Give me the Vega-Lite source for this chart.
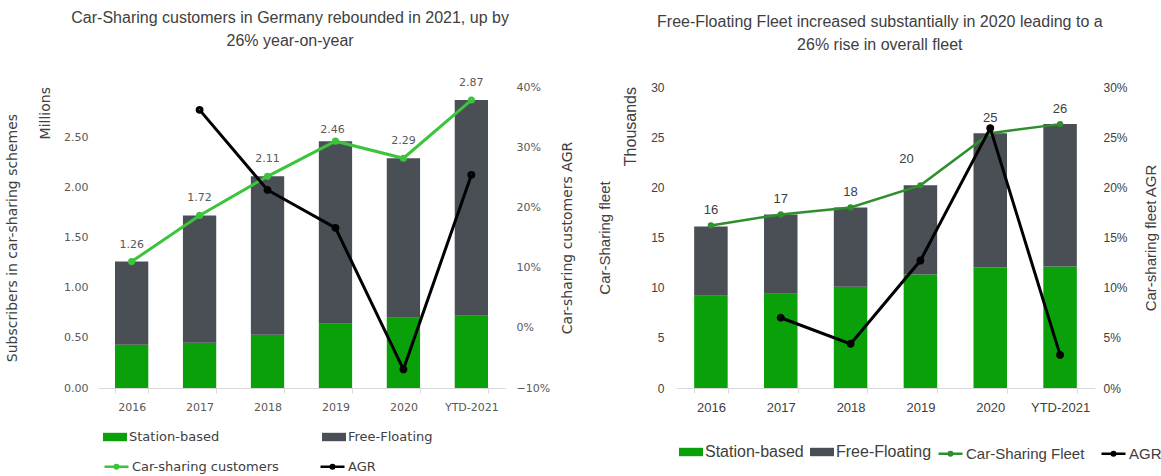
{
  "$schema": "https://vega.github.io/schema/vega-lite/v6.json",
  "padding": {"left": 5, "top": 10, "right": 0, "bottom": 0},
  "background": "white",
  "config": {
    "font": "Liberation Sans",
    "view": {"stroke": null},
    "title": {"fontSize": 16, "fontWeight": "normal", "color": "#404040", "anchor": "middle", "frame": "bounds", "lineHeight": 23}
  },
  "datasets": {
    "left_bars": [
      {"year": "2016", "segment": "Station-based", "value": 0.43},
      {"year": "2016", "segment": "Free-Floating", "value": 0.83},
      {"year": "2017", "segment": "Station-based", "value": 0.45},
      {"year": "2017", "segment": "Free-Floating", "value": 1.27},
      {"year": "2018", "segment": "Station-based", "value": 0.53},
      {"year": "2018", "segment": "Free-Floating", "value": 1.58},
      {"year": "2019", "segment": "Station-based", "value": 0.64},
      {"year": "2019", "segment": "Free-Floating", "value": 1.82},
      {"year": "2020", "segment": "Station-based", "value": 0.70},
      {"year": "2020", "segment": "Free-Floating", "value": 1.59},
      {"year": "YTD-2021", "segment": "Station-based", "value": 0.72},
      {"year": "YTD-2021", "segment": "Free-Floating", "value": 2.15}
    ],
    "left_lines": [
      {"year": "2016", "customers": 1.26, "agr": null},
      {"year": "2017", "customers": 1.72, "agr": 0.362},
      {"year": "2018", "customers": 2.11, "agr": 0.229},
      {"year": "2019", "customers": 2.46, "agr": 0.166},
      {"year": "2020", "customers": 2.29, "agr": -0.069},
      {"year": "YTD-2021", "customers": 2.87, "agr": 0.254}
    ],
    "right_bars": [
      {"year": "2016", "segment": "Station-based", "value": 9.2},
      {"year": "2016", "segment": "Free-Floating", "value": 6.9},
      {"year": "2017", "segment": "Station-based", "value": 9.4},
      {"year": "2017", "segment": "Free-Floating", "value": 7.9},
      {"year": "2018", "segment": "Station-based", "value": 10.1},
      {"year": "2018", "segment": "Free-Floating", "value": 7.9},
      {"year": "2019", "segment": "Station-based", "value": 11.3},
      {"year": "2019", "segment": "Free-Floating", "value": 8.9},
      {"year": "2020", "segment": "Station-based", "value": 12.0},
      {"year": "2020", "segment": "Free-Floating", "value": 13.4},
      {"year": "YTD-2021", "segment": "Station-based", "value": 12.1},
      {"year": "YTD-2021", "segment": "Free-Floating", "value": 14.2}
    ],
    "right_lines": [
      {"year": "2016", "fleet": 16.2, "agr": null},
      {"year": "2017", "fleet": 17.3, "agr": 0.070},
      {"year": "2018", "fleet": 18.0, "agr": 0.044},
      {"year": "2019", "fleet": 20.2, "agr": 0.127},
      {"year": "2020", "fleet": 25.4, "agr": 0.259},
      {"year": "YTD-2021", "fleet": 26.3, "agr": 0.033}
    ]
  },
  "resolve": {"scale": {"color": "independent", "stroke": "independent"}},
  "hconcat": [
    {
      "width": 407,
      "height": 301,
      "title": {"text": ["Car-Sharing customers in Germany rebounded in 2021, up by", "26% year-on-year"], "offset": 28},
      "layer": [
        {
          "layer": [
            {
              "data": {"name": "left_bars"},
              "mark": {"type": "bar"},
              "encoding": {
                "x": {"field": "year", "type": "nominal", "title": null,
                  "scale": {"domain": ["2016", "2017", "2018", "2019", "2020", "YTD-2021"], "paddingInner": 0.51, "paddingOuter": 0.25},
                  "axis": {"labelAngle": 0, "labelFont": "DejaVu Sans", "labelFontSize": 11, "labelColor": "#595959", "domainColor": "#d9d9d9", "tickColor": "#d9d9d9", "tickBand": "extent", "tickSize": 5, "labelPadding": 8, "grid": false}},
                "y": {"field": "value", "type": "quantitative", "stack": "zero", "title": "Subscribers in car-sharing schemes",
                  "scale": {"domain": [0, 3]},
                  "axis": {"orient": "left", "values": [0, 0.5, 1, 1.5, 2, 2.5], "format": ".2f", "titlePadding": 44, "titleFont": "DejaVu Sans", "titleFontSize": 14, "titleFontWeight": "normal", "titleColor": "#404040", "labelFont": "DejaVu Sans", "labelColor": "#595959", "labelFontSize": 11, "labelPadding": 10, "domain": false, "ticks": false, "grid": false}},
                "color": {"field": "segment", "type": "nominal",
                  "scale": {"domain": ["Station-based", "Free-Floating"], "range": ["#0aa00a", "#4a4e55"]},
                  "legend": {"orient": "none", "legendX": 5, "legendY": 338, "direction": "horizontal", "title": null, "padding": 0,
                    "symbolType": "M-1,-0.35H1V0.35H-1Z", "symbolSize": 576, "symbolStrokeWidth": 0,
                    "labelFont": "DejaVu Sans", "labelFontSize": 13, "labelColor": "#404040", "labelOffset": 2, "columnPadding": 102}},
                "order": {"field": "segment", "sort": "descending"}
              }
            },
            {
              "data": {"name": "left_lines"},
              "mark": {"type": "line", "strokeWidth": 3},
              "encoding": {
                "x": {"field": "year", "type": "nominal"},
                "y": {"field": "customers", "type": "quantitative", "title": "Subscribers in car-sharing schemes"},
                "stroke": {"datum": "Car-sharing customers",
                  "scale": {"domain": ["Car-sharing customers", "AGR"], "range": ["#3cc43c", "#000000"]},
                  "legend": {"orient": "none", "legendX": 5, "legendY": 366, "direction": "horizontal", "title": null, "padding": 0,
                    "symbolType": "M-1,0H1M-0.15,0A0.15,0.15 0 1,0 0.15,0A0.15,0.15 0 1,0 -0.15,0", "symbolSize": 576, "symbolStrokeWidth": 2.5,
                    "labelFont": "DejaVu Sans", "labelFontSize": 13, "labelColor": "#404040", "labelOffset": 2, "columnPadding": 36}}
              }
            },
            {
              "data": {"name": "left_lines"},
              "mark": {"type": "point", "filled": false, "size": 10, "strokeWidth": 4, "opacity": 1},
              "encoding": {
                "x": {"field": "year", "type": "nominal"},
                "y": {"field": "customers", "type": "quantitative", "title": "Subscribers in car-sharing schemes"},
                "stroke": {"datum": "Car-sharing customers"}
              }
            },
            {
              "data": {"name": "left_lines"},
              "transform": [{"filter": "datum.year != '2019'"}],
              "mark": {"type": "text", "dy": -17, "font": "DejaVu Sans", "fontSize": 11, "color": "#595959"},
              "encoding": {
                "x": {"field": "year", "type": "nominal"},
                "y": {"field": "customers", "type": "quantitative", "title": "Subscribers in car-sharing schemes"},
                "text": {"field": "customers", "type": "quantitative", "format": ".2f"}
              }
            },
            {
              "data": {"name": "left_lines"},
              "transform": [{"filter": "datum.year == '2019'"}],
              "mark": {"type": "text", "dy": -11, "dx": -3, "font": "DejaVu Sans", "fontSize": 11, "color": "#595959"},
              "encoding": {
                "x": {"field": "year", "type": "nominal"},
                "y": {"field": "customers", "type": "quantitative", "title": "Subscribers in car-sharing schemes"},
                "text": {"field": "customers", "type": "quantitative", "format": ".2f"}
              }
            },
            {
              "data": {"values": [{"label": "Millions"}]},
              "mark": {"type": "text", "angle": 270, "align": "right", "baseline": "middle", "dy": -86, "font": "DejaVu Sans", "fontSize": 14, "color": "#404040"},
              "encoding": {
                "x": {"datum": "2016"},
                "y": {"datum": 3},
                "text": {"field": "label"}
              }
            }
          ]
        },
        {
          "data": {"name": "left_lines"},
          "layer": [
            {
              "mark": {"type": "line", "strokeWidth": 3},
              "encoding": {
                "x": {"field": "year", "type": "nominal"},
                "y": {"field": "agr", "type": "quantitative", "title": "Car-sharing customers AGR",
                  "scale": {"domain": [-0.1, 0.4]},
                  "axis": {"orient": "right", "values": [-0.1, -0.05, 0, 0.05, 0.1, 0.15, 0.2, 0.25, 0.3, 0.35, 0.4], "format": ".0%", "titleAngle": 270, "titlePadding": 25, "titleFont": "DejaVu Sans", "titleFontSize": 14, "titleFontWeight": "normal", "titleColor": "#404040", "labelFont": "DejaVu Sans", "labelColor": "#595959", "labelFontSize": 11, "labelPadding": 11, "domain": false, "ticks": false, "grid": false}},
                "stroke": {"datum": "AGR"}
              }
            },
            {
              "mark": {"type": "point", "filled": false, "size": 12, "strokeWidth": 4.5, "opacity": 1},
              "encoding": {
                "x": {"field": "year", "type": "nominal"},
                "y": {"field": "agr", "type": "quantitative", "title": "Car-sharing customers AGR"},
                "stroke": {"datum": "AGR"}
              }
            }
          ]
        }
      ],
      "resolve": {"scale": {"y": "independent"}}
    },
    {
      "width": 419,
      "height": 301,
      "title": {"text": ["Free-Floating Fleet increased substantially in 2020 leading to a", "26% rise in overall fleet"], "offset": 28},
      "layer": [
        {
          "layer": [
            {
              "data": {"name": "right_bars"},
              "mark": {"type": "bar"},
              "encoding": {
                "x": {"field": "year", "type": "nominal", "title": null,
                  "scale": {"domain": ["2016", "2017", "2018", "2019", "2020", "YTD-2021"], "paddingInner": 0.52, "paddingOuter": 0.26},
                  "axis": {"labelAngle": 0, "labelFontSize": 13, "labelColor": "#404040", "domainColor": "#d9d9d9", "tickColor": "#d9d9d9", "tickBand": "extent", "tickSize": 5, "labelPadding": 8, "grid": false}},
                "y": {"field": "value", "type": "quantitative", "stack": "zero", "title": "Car-Sharing fleet",
                  "scale": {"domain": [0, 30]},
                  "axis": {"orient": "left", "values": [0, 5, 10, 15, 20, 25, 30], "titlePadding": 38, "titleFontSize": 15, "titleFontWeight": "normal", "titleColor": "#404040", "labelColor": "#404040", "labelFontSize": 12, "labelPadding": 12, "domain": false, "ticks": false, "grid": false}},
                "color": {"field": "segment", "type": "nominal",
                  "scale": {"domain": ["Station-based", "Free-Floating"], "range": ["#0aa00a", "#4a4e55"]},
                  "legend": {"orient": "none", "legendX": 3, "legendY": 353, "direction": "horizontal", "title": null, "padding": 0,
                    "symbolType": "M-1,-0.35H1V0.35H-1Z", "symbolSize": 576, "symbolStrokeWidth": 0,
                    "labelFontSize": 16, "labelColor": "#404040", "labelOffset": 2, "columnPadding": 6}},
                "order": {"field": "segment", "sort": "descending"}
              }
            },
            {
              "data": {"name": "right_lines"},
              "mark": {"type": "line", "strokeWidth": 2.5},
              "encoding": {
                "x": {"field": "year", "type": "nominal"},
                "y": {"field": "fleet", "type": "quantitative", "title": "Car-Sharing fleet"},
                "stroke": {"datum": "Car-Sharing Fleet",
                  "scale": {"domain": ["Car-Sharing Fleet", "AGR"], "range": ["#2f8f2f", "#000000"]},
                  "legend": {"orient": "none", "legendX": 261, "legendY": 353, "direction": "horizontal", "title": null, "padding": 0,
                    "symbolType": "M-1,0H1M-0.15,0A0.15,0.15 0 1,0 0.15,0A0.15,0.15 0 1,0 -0.15,0", "symbolSize": 576, "symbolStrokeWidth": 2.5,
                    "labelFontSize": 15, "labelColor": "#404040", "labelOffset": 2, "columnPadding": 11}}
              }
            },
            {
              "data": {"name": "right_lines"},
              "mark": {"type": "point", "filled": false, "size": 8, "strokeWidth": 3.5, "opacity": 1},
              "encoding": {
                "x": {"field": "year", "type": "nominal"},
                "y": {"field": "fleet", "type": "quantitative", "title": "Car-Sharing fleet"},
                "stroke": {"datum": "Car-Sharing Fleet"}
              }
            },
            {
              "data": {"name": "right_lines"},
              "transform": [{"filter": "datum.year != '2019'"}],
              "mark": {"type": "text", "dy": -15, "fontSize": 13, "color": "#404040"},
              "encoding": {
                "x": {"field": "year", "type": "nominal"},
                "y": {"field": "fleet", "type": "quantitative", "title": "Car-Sharing fleet"},
                "text": {"field": "fleet", "type": "quantitative", "format": ".0f"}
              }
            },
            {
              "data": {"name": "right_lines"},
              "transform": [{"filter": "datum.year == '2019'"}],
              "mark": {"type": "text", "dx": -14, "dy": -26, "fontSize": 13, "color": "#404040"},
              "encoding": {
                "x": {"field": "year", "type": "nominal"},
                "y": {"field": "fleet", "type": "quantitative", "title": "Car-Sharing fleet"},
                "text": {"field": "fleet", "type": "quantitative", "format": ".0f"}
              }
            },
            {
              "data": {"values": [{"label": "Thousands"}]},
              "mark": {"type": "text", "angle": 270, "align": "right", "baseline": "middle", "dy": -80, "fontSize": 16, "color": "#404040"},
              "encoding": {
                "x": {"datum": "2016"},
                "y": {"datum": 30},
                "text": {"field": "label"}
              }
            }
          ]
        },
        {
          "data": {"name": "right_lines"},
          "layer": [
            {
              "mark": {"type": "line", "strokeWidth": 3},
              "encoding": {
                "x": {"field": "year", "type": "nominal"},
                "y": {"field": "agr", "type": "quantitative", "title": "Car-sharing fleet AGR",
                  "scale": {"domain": [0, 0.3]},
                  "axis": {"orient": "right", "values": [0, 0.05, 0.1, 0.15, 0.2, 0.25, 0.3], "format": ".0%", "titleAngle": 270, "titlePadding": 31, "titleFontSize": 15, "titleFontWeight": "normal", "titleColor": "#404040", "labelColor": "#404040", "labelFontSize": 12, "labelPadding": 8, "domain": false, "ticks": false, "grid": false}},
                "stroke": {"datum": "AGR"}
              }
            },
            {
              "mark": {"type": "point", "filled": false, "size": 12, "strokeWidth": 4.5, "opacity": 1},
              "encoding": {
                "x": {"field": "year", "type": "nominal"},
                "y": {"field": "agr", "type": "quantitative", "title": "Car-sharing fleet AGR"},
                "stroke": {"datum": "AGR"}
              }
            }
          ]
        }
      ],
      "resolve": {"scale": {"y": "independent"}}
    }
  ],
  "spacing": 22
}
